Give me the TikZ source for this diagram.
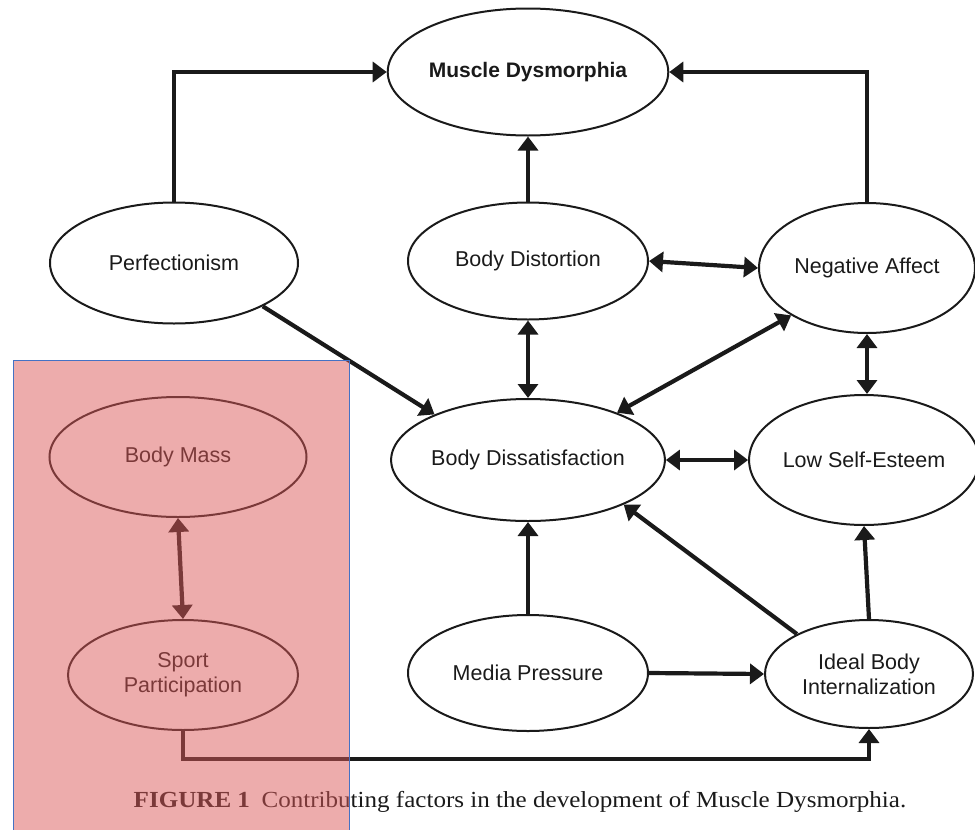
\documentclass[tikz,border=0pt]{standalone}
\usepackage{fontspec}
\setmainfont{Liberation Serif}
\setsansfont{Liberation Sans}
\newfontfamily\captionfont[FakeStretch=1.09]{Liberation Serif}
\usetikzlibrary{shapes.geometric, arrows.meta, calc}
\definecolor{inkgray}{RGB}{26, 26, 26}
\definecolor{overlaypink}{RGB}{219, 89, 89}
\definecolor{overlayblue}{RGB}{68, 114, 196}

\begin{document}
\begin{tikzpicture}[x=1pt, y=-1pt,
    factor/.style={ellipse, draw=inkgray, line width=2pt, inner sep=0pt, align=center,
      font=\sffamily\fontsize{21.5}{25}\selectfont, text=inkgray},
    link/.style={draw=inkgray, line width=4.2pt, -{Triangle[length=14pt, width=20pt]}},
    twoway/.style={link, {Triangle[length=14pt, width=20pt]}-{Triangle[length=14pt, width=20pt]}}]
  \useasboundingbox (0,0) rectangle (975,830);

  % factors
  \node[factor, minimum width=280pt, minimum height=127pt,
    font=\sffamily\bfseries\fontsize{21}{25}\selectfont] (mds) at (528,72) {Muscle Dysmorphia};
  \node[factor, minimum width=248pt, minimum height=121pt] (perf) at (174,263) {Perfectionism};
  \node[factor, minimum width=240pt, minimum height=117pt] (bdist) at (528,261) {Body Distortion};
  \node[factor, minimum width=216pt, minimum height=130pt] (neg) at (867,268) {Negative Affect};
  \node[factor, minimum width=260pt, minimum height=122pt] (bdis) at (528,460) {Body Dissatisfaction};
  \node[factor, minimum width=222pt, minimum height=130pt] (lse) at (864,460) {Low Self-Esteem};
  \node[factor, minimum width=257pt, minimum height=120pt] (bmass) at (178,457) {Body Mass};
  \node[factor, minimum width=230pt, minimum height=110pt] (sport) at (183,675) {Sport\\Participation};
  \node[factor, minimum width=240pt, minimum height=116pt] (media) at (528,673) {Media Pressure};
  \node[factor, minimum width=208pt, minimum height=108pt] (ibi) at (869,674) {Ideal Body\\Internalization};

  % paths
  \draw[link] (perf.north) |- (mds.west);
  \draw[link] (neg.north) |- (mds.east);
  \draw[link] (bdist.north) -- (mds.south);
  \draw[twoway] (bdist.east) -- (neg.west);
  \draw[twoway] (bdist.south) -- (bdis.north);
  \draw[link] (perf.-26) -- (bdis.154);
  \draw[twoway] (bdis.28) -- (neg.-148);
  \draw[twoway] (neg.south) -- (neg.south |- lse.north);
  \draw[twoway] (bdis.east) -- (lse.west);
  \draw[link] (media.north) -- (bdis.south);
  \draw[link] (media.east) -- (ibi.west);
  \draw[link] (ibi.151) -- (bdis.-25);
  \draw[link] (ibi.north) -- (lse.south);
  \draw[twoway] (bmass.south) -- (sport.north);
  \draw[link] (sport.south) -- ++(0,28) -| (ibi.south);

  \node[font=\captionfont\fontsize{23}{27}\selectfont, text=inkgray] (caption) at (520,802)
    {\textbf{FIGURE 1}\enspace Contributing factors in the development of Muscle Dysmorphia.};

  % highlight box
  \draw[overlayblue, line width=1pt, fill=overlaypink, fill opacity=0.5] (13,360) rectangle (349,832);
\end{tikzpicture}
\end{document}
